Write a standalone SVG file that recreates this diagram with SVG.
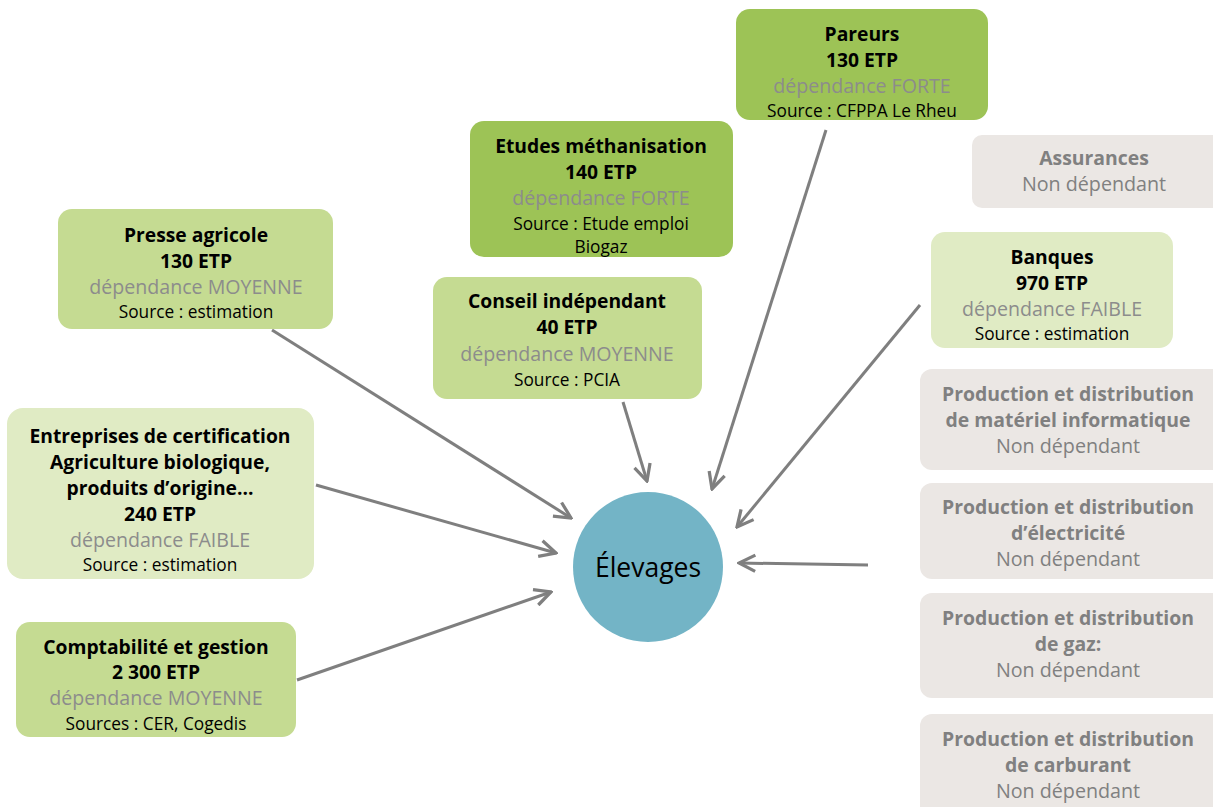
<svg xmlns="http://www.w3.org/2000/svg" width="1213" height="807" viewBox="0 0 1213 807">
<defs>
<style>
text{font-family:"Open Sans","Noto Sans","Liberation Sans",sans-serif;text-anchor:middle}
.t{font-weight:bold;font-size:19.3px;fill:#000}
.d{font-size:19.6px;fill:#8c8c8c}
.s{font-size:17.3px;fill:#000}
.g{font-weight:bold;font-size:19.4px;fill:#808080}
.n{font-size:19.7px;fill:#808080}
.dark{fill:#9dc356}
.mid{fill:#c5db92}
.light{fill:#e0ebc4}
.grey{fill:#ebe7e4}
.c{fill:none;stroke:#7f7f7f;stroke-width:3}
</style>
<marker id="ah" viewBox="0 0 12 12" refX="11" refY="6" markerWidth="6.5" markerHeight="6.5" markerUnits="strokeWidth" orient="auto">
<path d="M1,1 L11,6 L1,11" fill="none" stroke="#7f7f7f" stroke-width="2"/>
</marker>
</defs>
<rect width="1213" height="807" fill="#fff"/>
<g id="connectors">
<line class="c" x1="826" y1="130" x2="712" y2="489" marker-end="url(#ah)"/>
<line class="c" x1="623" y1="402" x2="647" y2="481" marker-end="url(#ah)"/>
<line class="c" x1="920" y1="305" x2="737" y2="527" marker-end="url(#ah)"/>
<line class="c" x1="868" y1="565" x2="739" y2="563" marker-end="url(#ah)"/>
<line class="c" x1="272" y1="330" x2="571" y2="518" marker-end="url(#ah)"/>
<line class="c" x1="316" y1="485" x2="556" y2="553" marker-end="url(#ah)"/>
<line class="c" x1="297" y1="680" x2="551" y2="592" marker-end="url(#ah)"/>
</g>
<g id="pareurs">
<rect class="dark" x="736" y="9" width="252" height="111" rx="14"/>
<text class="t" x="862" y="41">Pareurs</text>
<text class="t" x="862" y="67">130 ETP</text>
<text class="d" x="862" y="93">dépendance FORTE</text>
<text class="s" x="862" y="117">Source : CFPPA Le Rheu</text>
</g>
<g id="assurances">
<rect class="grey" x="972" y="135" width="260" height="73" rx="10"/>
<text class="g" x="1094" y="165">Assurances</text>
<text class="n" x="1094" y="191">Non dépendant</text>
</g>
<g id="methanisation">
<rect class="dark" x="470" y="121" width="263" height="136" rx="14"/>
<text class="t" x="601" y="153">Etudes méthanisation</text>
<text class="t" x="601" y="179">140 ETP</text>
<text class="d" x="601" y="205">dépendance FORTE</text>
<text class="s" x="601" y="230">Source : Etude emploi</text>
<text class="s" x="601" y="253">Biogaz</text>
</g>
<g id="conseil">
<rect class="mid" x="433" y="277" width="269" height="122" rx="14"/>
<text class="t" x="567" y="308">Conseil indépendant</text>
<text class="t" x="567" y="334">40 ETP</text>
<text class="d" x="567" y="361">dépendance MOYENNE</text>
<text class="s" x="567" y="386">Source : PCIA</text>
</g>
<g id="presse">
<rect class="mid" x="58" y="209" width="275" height="120" rx="14"/>
<text class="t" x="196" y="242">Presse agricole</text>
<text class="t" x="196" y="268">130 ETP</text>
<text class="d" x="196" y="294">dépendance MOYENNE</text>
<text class="s" x="196" y="318">Source : estimation</text>
</g>
<g id="certification">
<rect class="light" x="7" y="408" width="307" height="171" rx="16"/>
<text class="t" x="160" y="443">Entreprises de certification</text>
<text class="t" x="160" y="469">Agriculture biologique,</text>
<text class="t" x="160" y="495">produits d’origine…</text>
<text class="t" x="160" y="521">240 ETP</text>
<text class="d" x="160" y="547">dépendance FAIBLE</text>
<text class="s" x="160" y="571">Source : estimation</text>
</g>
<g id="comptabilite">
<rect class="mid" x="16" y="622" width="280" height="115" rx="14"/>
<text class="t" x="156" y="654">Comptabilité et gestion</text>
<text class="t" x="156" y="679">2 300 ETP</text>
<text class="d" x="156" y="705">dépendance MOYENNE</text>
<text class="s" x="156" y="730">Sources : CER, Cogedis</text>
</g>
<g id="banques">
<rect class="light" x="931" y="232" width="242" height="116" rx="14"/>
<text class="t" x="1052" y="264">Banques</text>
<text class="t" x="1052" y="290">970 ETP</text>
<text class="d" x="1052" y="316">dépendance FAIBLE</text>
<text class="s" x="1052" y="340">Source : estimation</text>
</g>
<g id="informatique">
<rect class="grey" x="920" y="369" width="310" height="101" rx="12"/>
<text class="g" x="1068" y="401">Production et distribution</text>
<text class="g" x="1068" y="427">de matériel informatique</text>
<text class="n" x="1068" y="453">Non dépendant</text>
</g>
<g id="electricite">
<rect class="grey" x="920" y="483" width="310" height="96" rx="12"/>
<text class="g" x="1068" y="514">Production et distribution</text>
<text class="g" x="1068" y="540">d’électricité</text>
<text class="n" x="1068" y="566">Non dépendant</text>
</g>
<g id="gaz">
<rect class="grey" x="920" y="593" width="310" height="105" rx="12"/>
<text class="g" x="1068" y="625">Production et distribution</text>
<text class="g" x="1068" y="651">de gaz:</text>
<text class="n" x="1068" y="677">Non dépendant</text>
</g>
<g id="carburant">
<rect class="grey" x="920" y="714" width="310" height="110" rx="12"/>
<text class="g" x="1068" y="746">Production et distribution</text>
<text class="g" x="1068" y="772">de carburant</text>
<text class="n" x="1068" y="798">Non dépendant</text>
</g>
<g id="elevages">
<circle cx="648" cy="567" r="75" fill="#73b4c6"/>
<text x="648" y="577" style="font-size:26.5px;fill:#000">Élevages</text>
</g>
</svg>
